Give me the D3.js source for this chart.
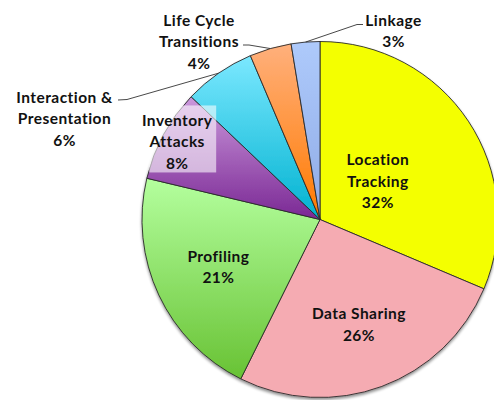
<!DOCTYPE html>
<html>
<head>
<meta charset="utf-8">
<script src="https://cdn.jsdelivr.net/npm/d3@7"></script>
<style>
  html, body { margin: 0; padding: 0; background: #fff; }
  svg { display: block; }
  text { font-family: Lato, "Open Sans", sans-serif; font-weight: bold; fill: #111; letter-spacing: 0.45px; }
</style>
</head>
<body>
<svg id="chart" width="494" height="400"></svg>
<script>
// ---- data ----
const categories = ["Location Tracking", "Data Sharing", "Profiling", "Inventory Attacks",
                    "Interaction & Presentation", "Life Cycle Transitions", "Linkage"];
const values = [31.4, 26, 21.4, 8.4, 6.5, 3.8, 2.6];
const percentLabels = ["32%", "26%", "21%", "8%", "6%", "4%", "3%"];
const labelLines = [["Location", "Tracking"], ["Data Sharing"], ["Profiling"], ["Inventory", "Attacks"],
                    ["Interaction &", "Presentation"], ["Life Cycle", "Transitions"], ["Linkage"]];

// ---- styles / layout ----
const colorsTop    = ["#F4FF00", "#F5ABB2", "#B4FF9E", "#CB98DC", "#7BE8FF", "#FFB07C", "#AECAFB"];
const colorsBottom = ["#F4FF00", "#F5ABB2", "#68C234", "#7A2894", "#00B2D0", "#FF7A00", "#8FABE6"];
const W = 494, H = 400;
const cx = 320, cy = 219.5, R = 178;
const lineH = 21.5;
const fontSize = 15.5;
// inside labels: radius fraction; outside labels: explicit text anchor positions
const inside = { 0: 0.39, 1: 0.63, 2: 0.63, 3: 0.913 };
const outside = {
  4: { x: 64.5, y: 97.5, elbow: [118, 100, 127, 99.5] },
  5: { x: 199, y: 20.5, elbow: [243, 45, 249, 45] },
  6: { x: 393.5, y: 20.5, elbow: [363, 24.5, 357, 24.5] }
};

const svg = d3.select("#chart");
const defs = svg.append("defs");

const filt = defs.append("filter").attr("id", "shadow")
  .attr("x", "-10%").attr("y", "-10%").attr("width", "120%").attr("height", "125%");
filt.append("feGaussianBlur").attr("in", "SourceAlpha").attr("stdDeviation", 1.6).attr("result", "b");
filt.append("feOffset").attr("in", "b").attr("dx", 0).attr("dy", 2).attr("result", "o");
filt.append("feComponentTransfer").attr("in", "o").attr("result", "o2")
  .append("feFuncA").attr("type", "linear").attr("slope", 0.45);
const fm = filt.append("feMerge");
fm.append("feMergeNode").attr("in", "o2");
fm.append("feMergeNode").attr("in", "SourceGraphic");

categories.forEach((c, i) => {
  const g = defs.append("linearGradient").attr("id", "grad" + i)
    .attr("x1", 0).attr("y1", 0).attr("x2", 0).attr("y2", 1);
  g.append("stop").attr("offset", "0%").attr("stop-color", colorsTop[i]);
  g.append("stop").attr("offset", "100%").attr("stop-color", colorsBottom[i]);
});

const pie = d3.pie().sort(null).value(d => d)(values);
const arc = d3.arc().innerRadius(0).outerRadius(R);

const g = svg.append("g").attr("transform", `translate(${cx},${cy})`);
const pieG = g.append("g").attr("filter", "url(#shadow)");
pieG.selectAll("path.slice").data(pie).enter().append("path")
  .attr("class", "slice")
  .attr("d", arc)
  .attr("fill", (d, i) => `url(#grad${i})`)
  .attr("stroke", "#2a2a2a")
  .attr("stroke-width", 0.9)
  .attr("stroke-linejoin", "round");

// inside labels
pie.forEach((d, i) => {
  if (inside[i] === undefined) return;
  const la = d3.arc().innerRadius(R * inside[i]).outerRadius(R * inside[i]);
  const [x, y] = la.centroid(d);
  const lines = labelLines[i].concat([percentLabels[i]]);
  const y0 = y - (lines.length - 1) * lineH / 2;
  if (i === 3) {
    g.append("rect")
      .attr("x", x + 5.5 - 33.5).attr("y", y0 - 15)
      .attr("width", 67).attr("height", 67)
      .attr("fill", "#fff").attr("fill-opacity", 0.58);
  }
  const t = g.append("text").attr("text-anchor", "middle").style("font-size", fontSize + "px");
  lines.forEach((ln, k) => {
    t.append("tspan").attr("x", x).attr("y", y0 + k * lineH).attr("dy", "0.35em").text(ln);
  });
});

// outside labels with leader lines
pie.forEach((d, i) => {
  const o = outside[i];
  if (!o) return;
  const la = d3.arc().innerRadius(R).outerRadius(R);
  const [ax, ay] = la.centroid(d);
  const path = d3.path();
  path.moveTo(o.elbow[0], o.elbow[1]);
  path.lineTo(o.elbow[2], o.elbow[3]);
  path.lineTo(ax + cx, ay + cy);
  svg.append("path").attr("d", path.toString())
    .attr("fill", "none").attr("stroke", "#333").attr("stroke-width", 0.9);
  const lines = labelLines[i].concat([percentLabels[i]]);
  const t = svg.append("text").attr("text-anchor", "middle").style("font-size", fontSize + "px");
  lines.forEach((ln, k) => {
    t.append("tspan").attr("x", o.x).attr("y", o.y + k * lineH).attr("dy", "0.35em").text(ln);
  });
});
</script>
</body>
</html>
